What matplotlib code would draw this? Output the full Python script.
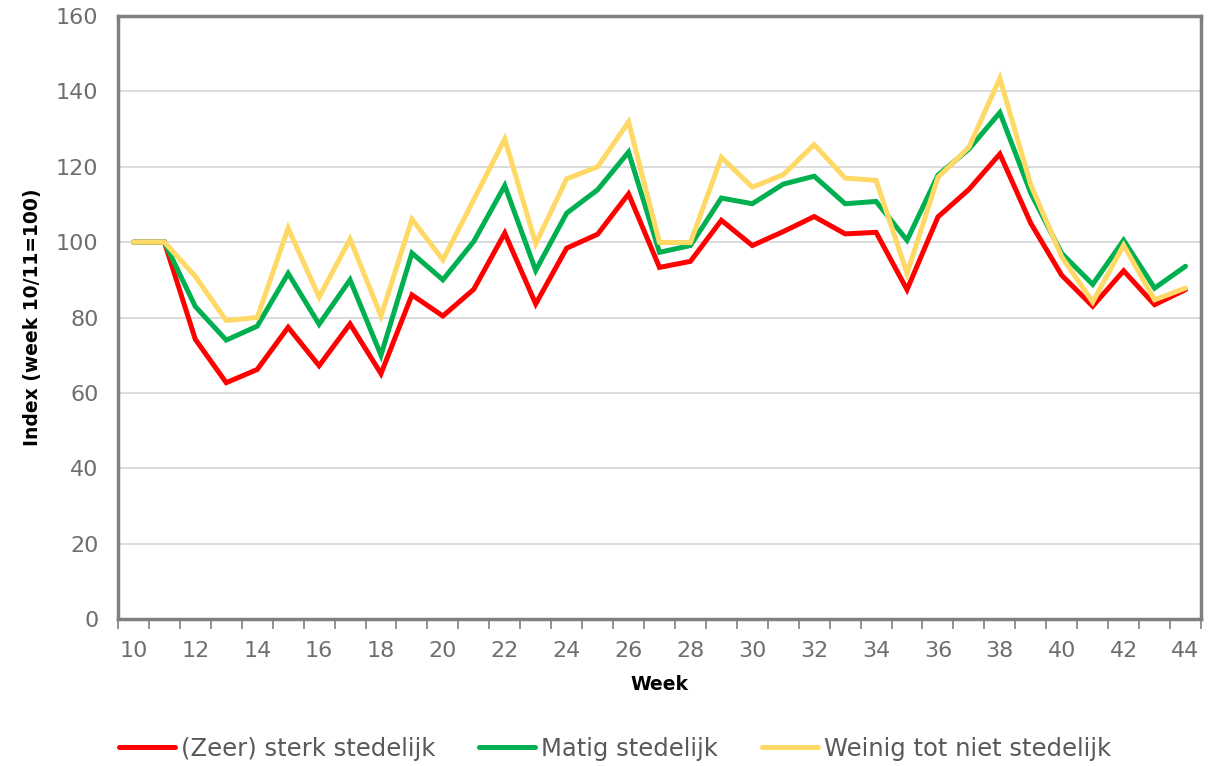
import numpy as np
import matplotlib.pyplot as plt

# Data
weeks = list(range(10, 45))
sterk = [100, 100, 74.2, 62.7, 66.2, 77.4, 67.2, 78.3, 65.1, 86.0, 80.4, 87.5, 102.4,
         83.6, 98.4, 102.1, 112.8, 93.3, 94.9, 105.8, 99.1, 102.8, 106.8, 102.2, 102.6,
         87.4, 106.7, 114.0, 123.4, 105.0, 91.2, 83.0, 92.4, 83.4, 87.4]
matig = [100, 100, 82.9, 74.0, 77.7, 91.7, 78.2, 90.0, 70.0, 97.1, 90.0, 100.2, 115.0,
         92.5, 107.7, 113.9, 123.9, 97.3, 99.1, 111.7, 110.2, 115.4, 117.5, 110.2, 110.8,
         100.5, 117.8, 124.7, 134.4, 113.0, 97.0, 88.8, 100.5, 87.8, 93.6]
weinig = [100, 100, 90.9, 79.2, 80.0, 103.7, 85.4, 100.8, 80.4, 106.1, 95.3, 111.3, 127.4,
          99.6, 116.8, 120.0, 131.9, 99.9, 99.9, 122.5, 114.6, 117.9, 125.9, 117.0, 116.4,
          91.7, 117.2, 125.2, 143.5, 115.2, 96.1, 84.1, 99.2, 84.7, 87.8]
labels = ["(Zeer) sterk stedelijk", "Matig stedelijk", "Weinig tot niet stedelijk"]
colors = ["#FF0000", "#00B050", "#FFD966"]

fig = plt.figure(figsize=(12.25, 7.66), dpi=100)
ax = fig.add_axes([0.0963, 0.192, 0.8841, 0.787])

for serie, lab, col in zip([sterk, matig, weinig], labels, colors):
    ax.plot(weeks, serie, color=col, lw=3.6, label=lab, solid_capstyle="round",
            solid_joinstyle="miter")

ax.set_xlim(9.5, 44.5)
ax.set_ylim(0, 160)
ax.set_yticks(np.arange(0, 161, 20))
ax.set_xticks(range(10, 45, 2))
ax.set_xticks(np.arange(9.5, 44.6, 1), minor=True)
ax.grid(axis="y", color="#d9d9d9", lw=1.3)
ax.set_axisbelow(True)

for s in ax.spines.values():
    s.set_color("#808080")
    s.set_linewidth(2.5)

ax.tick_params(axis="y", length=0, pad=14, labelsize=16, labelcolor="#6e6e6e")
ax.tick_params(axis="x", which="major", length=0, pad=16, labelsize=16, labelcolor="#6e6e6e")
ax.tick_params(axis="x", which="minor", length=7, width=1.2, color="#808080")

ax.set_xlabel("Week", fontsize=13.5, fontweight="bold", labelpad=10)
ax.set_ylabel("Index (week 10/11=100)", fontsize=13.5, fontweight="bold", labelpad=10)

fig.legend(loc="lower center", ncol=3, frameon=False, fontsize=17.5, bbox_to_anchor=(0.502, -0.022),
           handlelength=2.3, handletextpad=0.25, columnspacing=1.8, labelcolor="#595959")

fig.savefig("out.png", dpi=100)
